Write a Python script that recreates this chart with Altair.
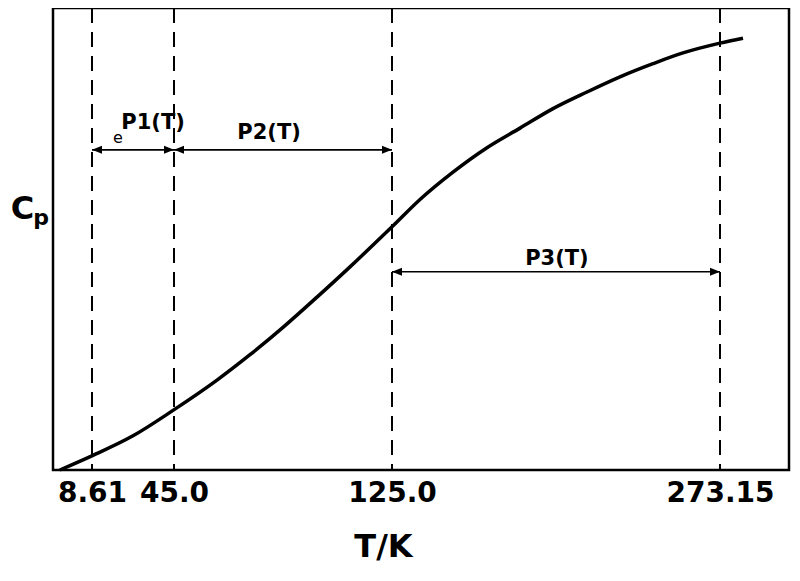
import altair as alt
import pandas as pd

# Heat-capacity curve (schematic)
T_curve = [1.5, 9.05, 26.8, 44.56, 60.78, 72.89, 85.0, 97.48, 109.59, 125.0,
           137.65, 152.55, 167.91, 182.82, 197.72, 213.08, 227.98, 242.89,
           256.43, 273.15, 283.54]
Cp_curve = [0.0, 3.17, 7.40, 12.90, 19.45, 24.95, 30.87, 37.42, 43.97, 52.64,
            58.56, 64.48, 69.77, 74.0, 78.22, 81.82, 85.1, 87.95,
            90.27, 92.39, 93.45]

# Boundaries of the fitted ranges
boundary_T = [8.61, 45.0, 125.0, 273.15]
boundary_labels = ["8.61", "45.0", "125.0", "273.15"]

# Range arrows
arrow_from = [8.61, 45.0, 125.0]
arrow_to = [45.0, 125.0, 273.15]
arrow_Cp = [69.3, 69.3, 42.9]

# Range labels
label_text = ["P1(T)", "P2(T)", "P3(T)"]
label_T = [35.7, 79.9, 199.5]
label_Cp = [75.1, 72.9, 45.7]
e_text = ["e"]
e_T = [20.1]
e_Cp = [71.9]

curve_df = pd.DataFrame({"T": T_curve, "Cp": Cp_curve})
bound_df = pd.DataFrame({"T": boundary_T})
arrow_df = pd.DataFrame({"T1": arrow_from, "T2": arrow_to, "Cp": arrow_Cp})
left_df = pd.DataFrame({"T": arrow_from, "Cp": arrow_Cp})
right_df = pd.DataFrame({"T": arrow_to, "Cp": arrow_Cp})
lab_df = pd.DataFrame({"T": label_T, "Cp": label_Cp, "txt": label_text})
e_df = pd.DataFrame({"T": e_T, "Cp": e_Cp, "txt": e_text})

label_expr = " : ".join(
    f"datum.value == {v} ? '{s}'" for v, s in zip(boundary_T, boundary_labels)
) + " : datum.label"

FONT = "DejaVu Sans"

xscale = alt.Scale(domain=[0, 8.61, 45.0, 125.0, 273.15, 304.3],
                   range=[0, 39, 121, 339, 667, 736], nice=False, zero=False)
yscale = alt.Scale(domain=[0, 100], nice=False, zero=False)

x_axis = alt.Axis(values=boundary_T, labelExpr=label_expr, ticks=False,
                  domain=False, grid=False, labelFont=FONT, labelFontSize=28,
                  labelFontWeight="bold", labelColor="black", labelPadding=9,
                  labelFlush=False, labelOverlap=False,
                  title="T/K", titleFont=FONT, titleFontSize=32,
                  titleFontWeight="bold", titleColor="black", titleX=330,
                  titleY=86, titleAlign="center", titleBaseline="alphabetic")
y_axis = alt.Axis(labels=False, ticks=False, domain=False, grid=False,
                  title="C", titleFont=FONT, titleFontSize=32,
                  titleFontWeight="bold", titleColor="black", titleAngle=0,
                  titleX=-31, titleY=200, titleAlign="center",
                  titleBaseline="middle")

X = alt.X("T:Q", scale=xscale, axis=x_axis)
Y = alt.Y("Cp:Q", scale=yscale, axis=y_axis)

curve = alt.Chart(curve_df).mark_line(
    interpolate="monotone", color="black", strokeWidth=3.5
).encode(x=X, y=Y)

bounds = alt.Chart(bound_df).mark_rule(
    color="black", strokeWidth=2, strokeDash=[15, 9]
).encode(x=alt.X("T:Q", scale=xscale))

arrows = alt.Chart(arrow_df).mark_rule(color="black", strokeWidth=1.6).encode(
    x=alt.X("T1:Q", scale=xscale), x2="T2:Q", y=alt.Y("Cp:Q", scale=yscale)
)

left_heads = alt.Chart(left_df).mark_point(
    shape="M0,0 L1,-0.4 L1,0.4 Z", filled=True, color="black", size=400,
    opacity=1
).encode(x=alt.X("T:Q", scale=xscale), y=alt.Y("Cp:Q", scale=yscale))

right_heads = alt.Chart(right_df).mark_point(
    shape="M0,0 L-1,-0.4 L-1,0.4 Z", filled=True, color="black", size=400,
    opacity=1
).encode(x=alt.X("T:Q", scale=xscale), y=alt.Y("Cp:Q", scale=yscale))

labels = alt.Chart(lab_df).mark_text(
    font=FONT, fontSize=21, fontWeight="bold", color="black",
    align="center", baseline="middle"
).encode(x=alt.X("T:Q", scale=xscale), y=alt.Y("Cp:Q", scale=yscale),
         text="txt:N")

e_label = alt.Chart(e_df).mark_text(
    font=FONT, fontSize=16, color="black", align="center", baseline="middle"
).encode(x=alt.X("T:Q", scale=xscale), y=alt.Y("Cp:Q", scale=yscale),
         text="txt:N")

sub_p = alt.Chart(pd.DataFrame({"txt": ["p"]})).mark_text(
    font=FONT, fontSize=22, fontWeight="bold", color="black",
    align="center", baseline="middle"
).encode(text="txt:N", x=alt.value(-12), y=alt.value(210))

chart = alt.layer(
    bounds, curve, arrows, left_heads, right_heads, labels, e_label, sub_p
).properties(
    width=736, height=462,
    autosize=alt.AutoSizeParams(type="none"),
    padding={"left": 45, "top": 0, "right": 3, "bottom": 97},
    background="white",
).configure_view(stroke="black", strokeWidth=2.5)

chart.save("out.html", embed_options={"renderer": "svg", "actions": False})
